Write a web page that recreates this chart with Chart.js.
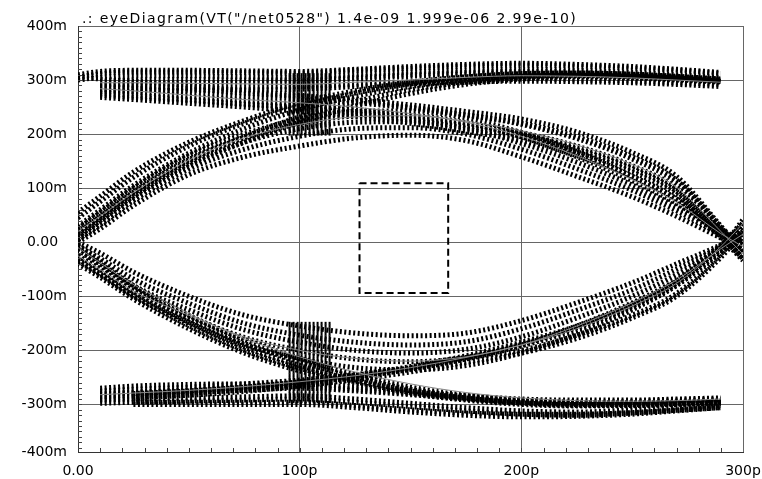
<!DOCTYPE html>
<html>
<head>
<meta charset="utf-8">
<script src="https://cdn.jsdelivr.net/npm/chart.js@4"></script>
<style>
  body { margin: 0; background: #fff; }
  #wrap { width: 762px; height: 479px; }
</style>
</head>
<body>
<div id="wrap"><canvas id="eye" width="762" height="479"></canvas></div>
<script>
// time samples (ps) shared by every trace
const xs = [0, 10, 25, 50, 75, 100, 125, 150, 175, 200, 225, 250, 270, 290, 300];

// trace values in mV (null = no sample there)
const topRail = [
    [310, 316, 318, 318, 317, 316, 320, 325, 329, 331, 329, 325, 320, 314, null],
    [305, 312, 315, 315, 314, 313, 318, 322, 326, 328, 326, 322, 318, 312, null],
    [300, 305, 308, 308, 306, 305, 310, 315, 318, 320, 318, 314, 310, 305, null],
    [null, 298, 300, 301, 300, 300, 305, 310, 314, 316, 315, 311, 307, 302, null],
    [null, 290, 293, 295, 296, 297, 302, 307, 311, 313, 312, 309, 305, 300, null],
    [null, 282, 284, 286, 287, 288, 292, 297, 300, 302, 300, 298, 295, 292, null],
    [null, 278, 280, 281, 282, 283, 288, 293, 296, 298, 297, 295, 292, 288, null]
];
const risingUp = [
    [55, 85, 130, 185, 225, 258, 280, 296, 306, 312, 313, 311, 307, 302, null],
    [45, 75, 120, 178, 220, 252, 276, 293, 304, 310, 312, 310, 306, 300, null],
    [30, 60, 105, 165, 210, 245, 270, 288, 300, 307, 309, 307, 304, 298, null],
    [15, 45, 90, 150, 195, 232, 260, 282, 296, 305, 308, 306, 302, 297, null],
    [5, 35, 80, 140, 185, 222, 252, 275, 292, 302, 306, 304, 300, 296, null]
];
const peakUp = [
    [0, 25, 68, 125, 158, 178, 193, 198, 188, 158, 122, 84, 48, 8, -12],
    [5, 32, 77, 135, 172, 196, 210, 212, 200, 172, 136, 96, 58, 14, -8],
    [10, 40, 85, 145, 185, 210, 222, 223, 210, 183, 148, 106, 66, 18, -5],
    [18, 48, 93, 153, 193, 220, 233, 234, 221, 195, 158, 114, 72, 20, -2],
    [25, 55, 100, 160, 200, 228, 242, 243, 230, 203, 168, 122, 80, 25, 0]
];
const fallingUp = [
    [null, 292, 290, 284, 276, 270, 264, 254, 242, 228, 204, 166, 122, 30, -18],
    [null, 288, 285, 278, 270, 265, 258, 248, 235, 220, 195, 158, 115, 28, -20],
    [305, 302, 298, 290, 280, 272, 262, 250, 236, 218, 192, 154, 110, 22, -15],
    [null, 282, 278, 270, 262, 255, 246, 234, 220, 203, 178, 142, 100, 18, -28],
    [null, 276, 272, 264, 256, 250, 241, 229, 215, 198, 172, 136, 94, 14, -32],
    [null, 272, 268, 262, 255, 248, 238, 226, 212, 195, 168, 130, 88, 10, -30],
    [null, 268, 264, 257, 250, 242, 232, 220, 205, 188, 160, 122, 80, 8, -34]
];
const bottomRail = [
    [null, -270, -266, -263, -262, -262, -268, -276, -284, -290, -292, -292, -290, -288, null],
    [null, -280, -277, -273, -270, -267, -272, -280, -288, -294, -296, -294, -292, -290, null],
    [null, -286, -282, -278, -274, -270, -275, -282, -290, -296, -298, -296, -294, -292, null],
    [null, -292, -290, -288, -286, -284, -290, -298, -306, -312, -314, -310, -306, -302, null],
    [null, null, -296, -296, -296, -296, -302, -310, -316, -318, -318, -315, -310, -304, null],
    [null, -298, -296, -294, -292, -290, -296, -304, -312, -318, -320, -316, -311, -306, null],
    [null, null, -300, -300, -300, -300, -306, -314, -320, -323, -322, -318, -312, -306, null]
];
const fallingLow = [
    [-5, -35, -80, -135, -180, -215, -245, -268, -283, -292, -296, -297, -296, -294, null],
    [-12, -42, -86, -141, -187, -221, -250, -272, -286, -295, -298, -299, -298, -296, null],
    [-25, -50, -92, -148, -194, -228, -255, -275, -288, -297, -300, -300, -298, -296, null],
    [-32, -58, -98, -154, -200, -233, -258, -278, -290, -298, -302, -302, -300, -297, null],
    [-40, -65, -105, -160, -205, -238, -262, -280, -292, -300, -303, -303, -300, -298, null]
];
const dipLow = [
    [0, -20, -55, -100, -135, -155, -168, -173, -168, -145, -112, -75, -40, -5, 15],
    [-8, -30, -68, -113, -150, -172, -185, -190, -184, -160, -126, -88, -50, -8, 18],
    [-15, -40, -80, -125, -162, -185, -200, -205, -198, -175, -140, -100, -60, -10, 20],
    [-25, -50, -90, -137, -176, -200, -216, -221, -213, -190, -155, -112, -70, -14, 14],
    [-35, -60, -100, -148, -190, -215, -232, -236, -228, -205, -170, -125, -80, -18, 10]
];
const risingLow = [
    [null, -275, -272, -268, -262, -255, -245, -230, -210, -185, -155, -115, -72, -5, 30],
    [null, -283, -279, -274, -267, -259, -248, -233, -213, -188, -158, -118, -76, -8, 36],
    [null, -290, -286, -280, -272, -262, -250, -235, -216, -192, -162, -122, -80, -12, 42],
    [null, null, -280, -275, -268, -258, -246, -232, -214, -200, -172, -135, -95, -22, 25],
    [null, null, -288, -283, -276, -266, -254, -240, -222, -205, -178, -140, -100, -28, 20]
];
const thinTraces = [
    [20, 48, 92, 152, 193, 218, 232, 234, 222, 196, 160, 116, 74, 16, -8],
    [null, 295, 295, 294, 293, 292, 296, 300, 305, 308, 307, 304, 300, 296, null],
    [null, 284, 280, 272, 264, 258, 250, 238, 224, 206, 180, 144, 102, 20, -22],
    [-25, -50, -90, -135, -175, -200, -215, -220, -212, -190, -155, -112, -70, -12, 15],
    [-10, -38, -78, -132, -178, -212, -240, -262, -278, -288, -293, -294, -293, -290, null],
    [null, -282, -279, -274, -267, -258, -247, -232, -213, -190, -160, -118, -76, -8, 35]
];

// dense stack of trace fragments around 100p (upper and lower clusters)
const clusterX = [95, 114];
const clusterUp = [200, 205, 210, 215, 220, 225, 230, 235, 240, 245, 250, 255, 260, 265, 270, 275, 280, 285, 290, 295, 300, 305, 310];
const clusterLow = [-150, -155, -160, -165, -170, -175, -180, -185, -190, -195, -200, -205, -210, -215, -220, -225, -230, -235, -240, -245, -250, -255, -260, -265, -270, -275, -280, -285, -290, -295];

// eye mask box
const maskX = [127, 167, 167, 127, 127];
const maskY = [109, 109, -94, -94, 109];

// axes
const xTickValues = [0, 100, 200, 300];
const xTickLabels = ['0.00', '100p', '200p', '300p'];
const yTickValues = [-388, -300, -200, -100, 0, 100, 200, 300, 400];
const yTickLabels = ['-400m', '-300m', '-200m', '-100m', '0.00  ', '100m', '200m', '300m', '400m'];
const titleText = '.: eyeDiagram(VT("/net0528") 1.4e-09 1.999e-06 2.99e-10)';

const toPoints = ys => xs.map((x, i) => ({ x: x, y: ys[i] })).filter(p => p.y !== null);

const datasets = [];
thinTraces.forEach(t => datasets.push({
    data: toPoints(t), borderColor: '#888', borderWidth: 1, pointRadius: 0,
    cubicInterpolationMode: 'monotone'
}));
datasets.push({
    data: maskX.map((x, i) => ({ x: x, y: maskY[i] })),
    borderColor: '#000', borderWidth: 2, borderDash: [7, 4], pointRadius: 0, tension: 0
});
clusterUp.concat(clusterLow).forEach(y => datasets.push({
    data: clusterX.map(x => ({ x: x, y: y })),
    borderColor: '#000', borderWidth: 3, borderDash: [2, 2], pointRadius: 0
}));
[topRail, risingUp, peakUp, fallingUp, bottomRail, fallingLow, dipLow, risingLow].forEach(fam => {
    fam.forEach(t => datasets.push({
        data: toPoints(t), borderColor: '#000', borderWidth: 5, borderDash: [2, 2.5],
        pointRadius: 0, cubicInterpolationMode: 'monotone'
    }));
});

// minor tick marks + the title line
const extras = {
    id: 'extras',
    afterDraw(chart) {
        const ctx = chart.ctx, a = chart.chartArea;
        const xs_ = chart.scales.x, ys_ = chart.scales.y;
        ctx.save();
        ctx.strokeStyle = '#444';
        ctx.lineWidth = 1;
        ctx.beginPath();
        for (let v = -380; v < 400; v += 10) {
            const py = Math.round(ys_.getPixelForValue(v)) + 0.5;
            ctx.moveTo(a.left, py); ctx.lineTo(a.left + 4, py);
        }
        for (let v = 10; v < 300; v += 10) {
            const px = Math.round(xs_.getPixelForValue(v)) + 0.5;
            ctx.moveTo(px, a.bottom); ctx.lineTo(px, a.bottom - 4);
        }
        ctx.stroke();
        ctx.fillStyle = '#000';
        ctx.font = '14px "DejaVu Sans"';
        ctx.letterSpacing = '1.4px';
        ctx.textBaseline = 'middle';
        ctx.fillText(titleText, 82, 19);
        ctx.restore();
    }
};

new Chart(document.getElementById('eye'), {
    type: 'line',
    data: { datasets: datasets },
    options: {
        responsive: false,
        animation: false,
        devicePixelRatio: 1,
        layout: { padding: { top: 26, right: 19, left: 0, bottom: 0 } },
        plugins: { legend: { display: false }, tooltip: { enabled: false } },
        scales: {
            x: {
                type: 'linear', min: 0, max: 300,
                afterBuildTicks: s => { s.ticks = xTickValues.map(v => ({ value: v })); },
                afterFit: s => { s.height = 27; s.paddingLeft = 0; s.paddingRight = 0; },
                ticks: {
                    color: '#000', padding: 11, maxRotation: 0,
                    font: { family: 'DejaVu Sans', size: 14 },
                    callback: (v, i) => xTickLabels[i]
                },
                grid: { color: '#666', drawTicks: false },
                border: { color: '#333' }
            },
            y: {
                type: 'linear', min: -388, max: 400,
                afterBuildTicks: s => { s.ticks = yTickValues.map(v => ({ value: v })); },
                afterFit: s => { s.width = 78; s.paddingTop = 0; s.paddingBottom = 0; },
                ticks: {
                    color: '#000', padding: 11,
                    font: { family: 'DejaVu Sans', size: 14 },
                    callback: (v, i) => yTickLabels[i]
                },
                grid: { color: '#666', drawTicks: false },
                border: { color: '#333' }
            }
        }
    },
    plugins: [extras]
});
</script>
</body>
</html>
